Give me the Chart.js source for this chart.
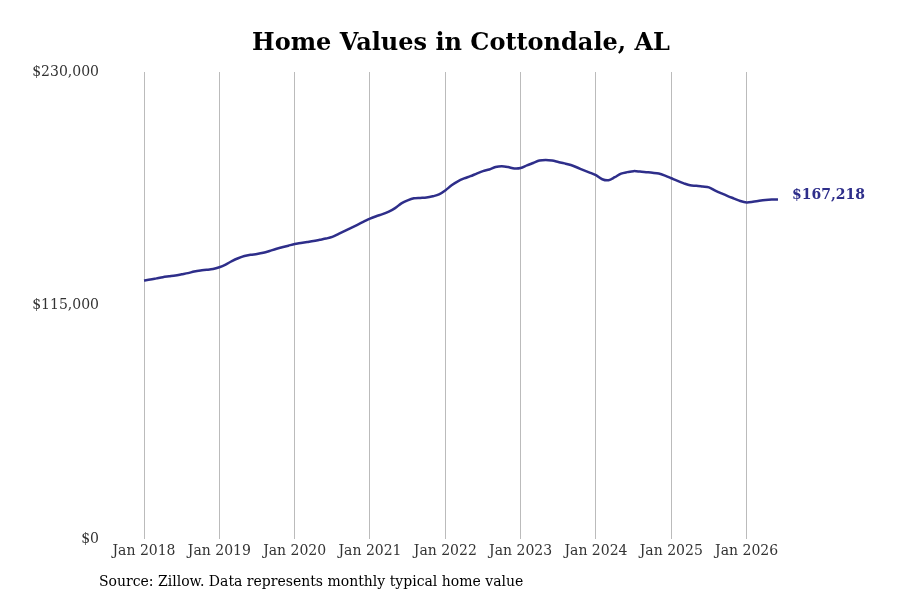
<!DOCTYPE html>
<html>
<head>
<meta charset="utf-8">
<script src="https://cdn.jsdelivr.net/npm/chart.js@4.4.1/dist/chart.umd.min.js"></script>
<style>
  body { margin: 0; background: #fff; }
  #wrap { width: 900px; height: 600px; }
</style>
</head>
<body>
<div id="wrap"><canvas id="c" width="900" height="600"></canvas></div>
<script>
// Monthly typical home value (thousands of dollars), Jan 2018 - Jun 2026
const months = ["Jan","Feb","Mar","Apr","May","Jun","Jul","Aug","Sep","Oct","Nov","Dec"];
const years = [2018, 2019, 2020, 2021, 2022, 2023, 2024, 2025, 2026];
const values = [
  127.4,127.8,128.4,129.0,129.4,129.8,130.4,131.0,131.8,132.3,132.6,133.0,
  133.9,135.2,136.9,138.3,139.4,140.0,140.4,141.0,141.9,142.9,143.7,144.5,
  145.3,145.8,146.3,146.8,147.4,148.0,148.8,150.3,151.8,153.3,154.8,156.3,
  157.8,159.0,160.0,161.3,163.0,165.3,166.8,167.8,168.0,168.2,168.8,169.7,
  171.7,174.2,176.2,177.6,178.7,180.0,181.2,182.0,183.2,183.6,183.2,182.5,
  182.7,184.0,185.2,186.4,186.7,186.4,185.7,185.0,184.2,183.0,181.7,180.5,
  179.2,177.2,176.7,178.2,180.0,180.7,181.2,181.0,180.7,180.4,180.0,179.0,
  177.7,176.4,175.2,174.2,174.0,173.6,173.2,171.6,170.2,168.9,167.7,166.5,
  165.8,166.1,166.6,167.0,167.2,167.218
].map(v => v * 1000);
const yTicks = [0, 115000, 230000];
const lastLabel = "$167,218";

const labels = values.map((v, i) => months[i % 12] + " " + years[Math.floor(i / 12)]);
const lineColor = "#2e2e8a";
const serif = "'DejaVu Serif', 'Liberation Serif', serif";

// Title, end label and source note
const extras = {
  id: "extras",
  afterDraw(chart) {
    const ctx = chart.ctx, a = chart.chartArea;
    ctx.save();
    ctx.fillStyle = "#000";
    ctx.font = "bold 24px " + serif;
    ctx.textAlign = "center";
    ctx.textBaseline = "middle";
    ctx.fillText("Home Values in Cottondale, AL", (a.left + a.right) / 2, 44);

    const meta = chart.getDatasetMeta(0);
    const p = meta.data[meta.data.length - 1];
    ctx.fillStyle = lineColor;
    ctx.font = "bold 14px " + serif;
    ctx.textAlign = "left";
    ctx.fillText(lastLabel, p.x + 14, p.y - 4);

    ctx.fillStyle = "#000";
    ctx.font = "14px " + serif;
    ctx.fillText("Source: Zillow. Data represents monthly typical home value", 99, 582);
    ctx.restore();
  }
};

new Chart(document.getElementById("c"), {
  type: "line",
  data: { labels, datasets: [{ data: values, borderColor: lineColor, borderWidth: 2.5, pointRadius: 0, tension: 0.3, fill: false }] },
  options: {
    responsive: false,
    animation: false,
    layout: { padding: { top: 72, right: 122, bottom: 36, left: 0 } },
    plugins: { legend: { display: false }, tooltip: { enabled: false } },
    scales: {
      x: {
        grid: { color: "#bbb", drawTicks: false, lineWidth: ctx => (ctx.tick && ctx.tick.label ? 1 : 0) },
        border: { display: false },
        ticks: {
          autoSkip: false, maxRotation: 0, padding: 4, color: "#333",
          font: { family: serif, size: 14 },
          callback: (v, i) => (i % 12 === 0 ? labels[i] : "")
        }
      },
      y: {
        min: 0, max: 230000,
        afterFit: s => { s.width = 144; },
        afterBuildTicks: s => { s.ticks = yTicks.map(v => ({ value: v })); },
        grid: { display: false },
        border: { display: false },
        ticks: {
          padding: 37, color: "#333",
          font: { family: serif, size: 14 },
          callback: v => "$" + v.toLocaleString("en-US")
        }
      }
    }
  },
  plugins: [extras]
});
</script>
</body>
</html>
